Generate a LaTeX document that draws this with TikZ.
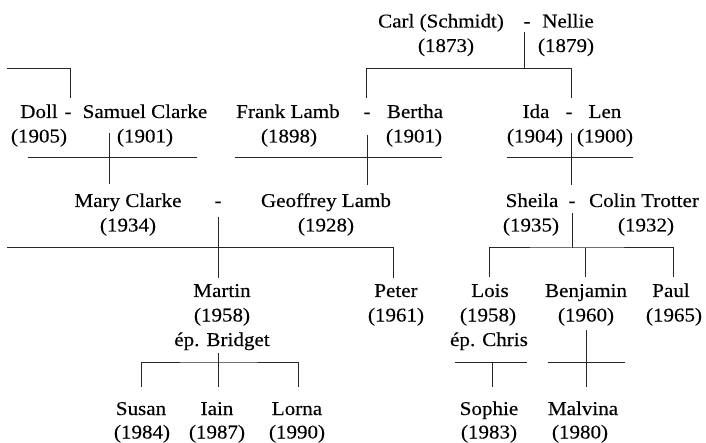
\documentclass[tikz,border=0pt]{standalone}
\usepackage{fontspec}
\setmainfont[FakeStretch=1.08,FakeBold=0.3]{Liberation Serif}
\begin{document}
\begin{tikzpicture}[x=1pt,y=-1pt,
  lbl/.style={inner sep=0pt, anchor=base, font=\fontsize{19.5}{22}\selectfont, text=black},
  link/.style={line width=1pt, draw=black!85}]
\useasboundingbox (0,0) rectangle (706,443);
% ---- text ----
\node[lbl] (carl) at (441,27.5) {Carl (Schmidt)};
\node[lbl] (y1873) at (446,52) {(1873)};
\node[lbl] (dashA) at (527,27.5) {-};
\node[lbl] (nellie) at (568,27.5) {Nellie};
\node[lbl] (y1879) at (566,52) {(1879)};
\node[lbl] (doll) at (39,118) {Doll};
\node[lbl] (y1905) at (39,142.5) {(1905)};
\node[lbl] (dashB) at (68,118) {-};
\node[lbl] (samuel) at (145,118) {Samuel Clarke};
\node[lbl] (y1901a) at (145,142.5) {(1901)};
\node[lbl] (frank) at (288,118) {Frank Lamb};
\node[lbl] (y1898) at (289,142.5) {(1898)};
\node[lbl] (dashC) at (367,118) {-};
\node[lbl] (bertha) at (415,118) {Bertha};
\node[lbl] (y1901b) at (414,142.5) {(1901)};
\node[lbl] (ida) at (536,118) {Ida};
\node[lbl] (y1904) at (535,142.5) {(1904)};
\node[lbl] (dashD) at (569,118) {-};
\node[lbl] (len) at (605,118) {Len};
\node[lbl] (y1900) at (605,142.5) {(1900)};
\node[lbl] (mary) at (128,207) {Mary Clarke};
\node[lbl] (y1934) at (128,231.5) {(1934)};
\node[lbl] (dashE) at (218,207) {-};
\node[lbl] (geoffrey) at (326,207) {Geoffrey Lamb};
\node[lbl] (y1928) at (326,231.5) {(1928)};
\node[lbl] (sheila) at (532,207) {Sheila};
\node[lbl] (y1935) at (531,231.5) {(1935)};
\node[lbl] (dashF) at (572,207) {-};
\node[lbl] (colin) at (644,207) {Colin Trotter};
\node[lbl] (y1932) at (646,231.5) {(1932)};
\node[lbl] (martin) at (222,297) {Martin};
\node[lbl] (y1958a) at (222,321.5) {(1958)};
\node[lbl] (bridget) at (222,346) {ép. Bridget};
\node[lbl] (peter) at (396,297) {Peter};
\node[lbl] (y1961) at (396,321.5) {(1961)};
\node[lbl] (lois) at (490,297) {Lois};
\node[lbl] (y1958b) at (488,321.5) {(1958)};
\node[lbl] (chris) at (489,346) {ép. Chris};
\node[lbl] (benjamin) at (586,297) {Benjamin};
\node[lbl] (y1960) at (586,321.5) {(1960)};
\node[lbl] (paul) at (671,297) {Paul};
\node[lbl] (y1965) at (674,321.5) {(1965)};
\node[lbl] (susan) at (141,415) {Susan};
\node[lbl] (y1984) at (142,438.5) {(1984)};
\node[lbl] (iain) at (217,415) {Iain};
\node[lbl] (y1987) at (217,438.5) {(1987)};
\node[lbl] (lorna) at (297,415) {Lorna};
\node[lbl] (y1990) at (297,438.5) {(1990)};
\node[lbl] (sophie) at (489,415) {Sophie};
\node[lbl] (y1983) at (489,438.5) {(1983)};
\node[lbl] (malvina) at (583,415) {Malvina};
\node[lbl] (y1980) at (580,438.5) {(1980)};
% ---- line points ----
\coordinate (tlA) at (7,69);   \coordinate (tlB) at (70,98);
\coordinate (cnT) at (524,32); \coordinate (cnB) at (524,69);
\coordinate (cnL) at (366,98); \coordinate (cnR) at (571,98);
\coordinate (dsL) at (28,158); \coordinate (dsR) at (197,158);
\coordinate (dsT) at (109,133); \coordinate (dsB) at (109,184);
\coordinate (fbL) at (235,158); \coordinate (fbR) at (442,158);
\coordinate (fbT) at (367,135); \coordinate (fbB) at (367,185);
\coordinate (ilL) at (507,158); \coordinate (ilR) at (633,158);
\coordinate (ilT) at (571,133); \coordinate (ilB) at (571,185);
\coordinate (mgT) at (218,217); \coordinate (mgB) at (218,278);
\coordinate (mgL) at (7,248);  \coordinate (mgR) at (393,278);
\coordinate (scT) at (572,213); \coordinate (scB) at (572,248);
\coordinate (scL) at (489,277); \coordinate (scR) at (673,277);
\coordinate (scM) at (585,277);
\coordinate (mbT) at (218,353); \coordinate (mbB) at (218,387);
\coordinate (mbL) at (141,387); \coordinate (mbR) at (298,387);
\coordinate (lcL) at (455,362); \coordinate (lcR) at (527,362);
\coordinate (lcB) at (492,387);
\coordinate (bmT) at (586,330); \coordinate (bmB) at (586,387);
\coordinate (bmL) at (548,362); \coordinate (bmR) at (625,362);
% ---- connectors ----
\draw[link] (tlA) -| (tlB);
\draw[link] (cnT) -- (cnB);
\draw[link] (cnL) |- (cnR |- cnB) -- (cnR);
\draw[link] (dsL) -- (dsR);
\draw[link] (dsT) -- (dsB);
\draw[link] (fbL) -- (fbR);
\draw[link] (fbT) -- (fbB);
\draw[link] (ilL) -- (ilR);
\draw[link] (ilT) -- (ilB);
\draw[link] (mgT) -- (mgB);
\draw[link] (mgL) -| (mgR);
\draw[link] (scT) -- (scB);
\draw[link] (scL) |- (scB) -| (scR);
\draw[link] (scM) -- (scM |- scB);
\draw[link] (mbT) -- (mbB);
\draw[link] (mbL) |- (218,362) -| (mbR);
\draw[link] (lcL) -- (lcR);
\draw[link] (lcB) -- (lcB |- lcL);
\draw[link] (bmT) -- (bmB);
\draw[link] (bmL) -- (bmR);
\end{tikzpicture}
\end{document}
